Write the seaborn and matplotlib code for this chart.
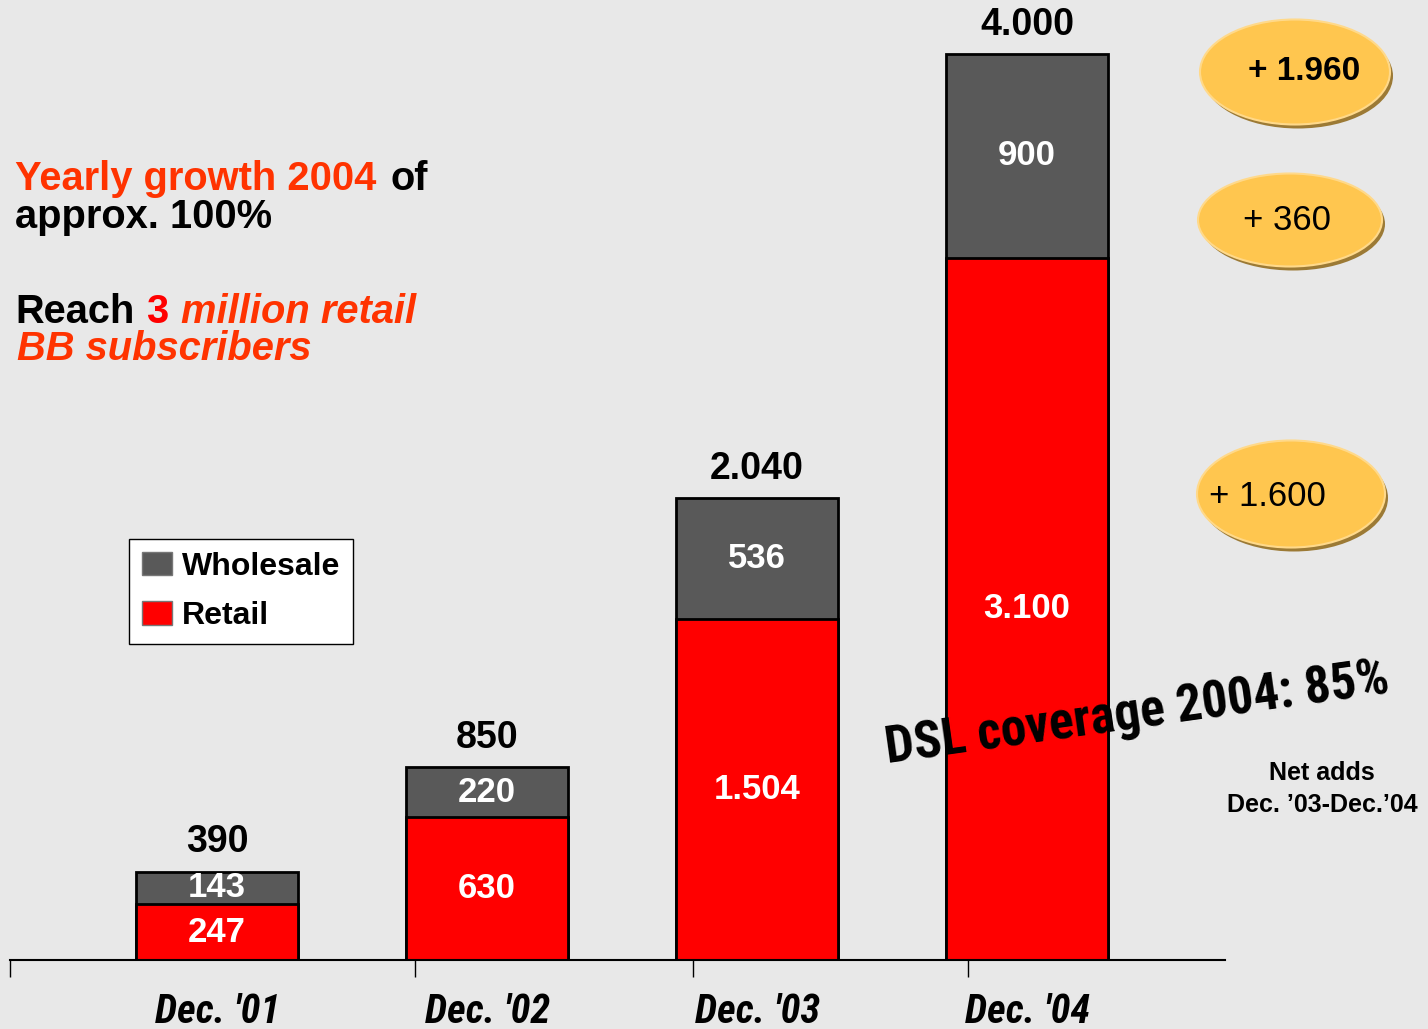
import pandas as pd
import numpy as np
import seaborn as sns
import matplotlib.pyplot as plt
import matplotlib.font_manager as fm
from matplotlib.patches import Patch, Ellipse

# data
months = ["Dec. '01", "Dec. '02", "Dec. '03", "Dec. '04"]
retail = [247, 630, 1504, 3100]
wholesale = [143, 220, 536, 900]
totals = [390, 850, 2040, 4000]
net_adds = ["+ 1.960", "+ 360", "+ 1.600"]

def fmt(v):
    # thousand separator as a dot
    return f"{v:,}".replace(",", ".")

df = pd.DataFrame({"month": months, "retail": retail, "wholesale": wholesale, "total": totals})

bg = "#E8E8E8"
gray = "#595959"
red = "#FF0000"
orange = "#FF3300"

sns.set_style("white")
plt.rcParams['font.family'] = ['Liberation Sans', 'DejaVu Sans']
plt.rcParams['text.color'] = 'black'
plt.rcParams['xtick.color'] = 'black'
plt.rcParams['xtick.labelcolor'] = 'black'
plt.rcParams['legend.labelcolor'] = 'black'

#look for a narrow face for the condensed texts
installed = {f.name for f in fm.fontManager.ttflist}
narrow = None
for cand in ['Liberation Sans Narrow', 'DejaVu Sans Condensed', 'Roboto Condensed', 'Open Sans Condensed']:
    if cand in installed:
        narrow = cand
        break
if narrow:
    cond_family = [narrow, 'Liberation Sans']
    xlab_size, dsl_size = 29, 37
else:
    cond_family = ['Liberation Sans', 'DejaVu Sans']
    xlab_size, dsl_size = 25, 31

fig = plt.figure(figsize=(14.28, 10.29), dpi=100, facecolor=bg)
W, H = 1428, 1029
ax = fig.add_axes([10 / W, 69 / H, 1215 / W, 960 / H])
ax.set_facecolor(bg)

#stacked bars: full total in gray, retail on top of it in red
sns.barplot(data=df, x="month", y="total", color=gray, width=0.6, saturation=1,
            edgecolor="black", linewidth=2, ax=ax)
sns.barplot(data=df, x="month", y="retail", color=red, width=0.6, saturation=1,
            edgecolor="black", linewidth=2, ax=ax)

ax.set_xlim(-0.767, 3.733)
ax.set_ylim(0, 4000 * 960 / 906)
for s in ["top", "right", "left"]:
    ax.spines[s].set_visible(False)
ax.spines["bottom"].set_linewidth(1.5)
ax.spines["bottom"].set_color("black")
ax.set_yticks([])
ax.set_xlabel("")
ax.set_ylabel("")

ax.set_xticks(range(len(months)))
ax.set_xticklabels(months, fontsize=xlab_size, fontweight="bold", fontstyle="italic",
                   family=cond_family, color="black")
ax.tick_params(axis="x", which="major", length=0, pad=24)
ax.set_xticks([-0.767, 0.733, 1.763, 2.781], minor=True)
ax.tick_params(axis="x", which="minor", bottom=True, length=12, width=1,
               color="black", direction="out")

for i in range(len(months)):
    ax.text(i, retail[i] / 2, fmt(retail[i]), ha="center", va="center",
            color="white", fontsize=25, fontweight="bold")
    ax.text(i, retail[i] + wholesale[i] / 2, fmt(wholesale[i]), ha="center", va="center",
            color="white", fontsize=25, fontweight="bold")
    ax.text(i, totals[i] + 50, fmt(totals[i]), ha="center", va="bottom",
            color="black", fontsize=27, fontweight="bold")

handles = [Patch(facecolor=gray, edgecolor="#777777"), Patch(facecolor=red, edgecolor="#777777")]
leg = ax.legend(handles, ["Wholesale", "Retail"], loc="upper left",
                bbox_to_anchor=(129 / W, 1 - 539 / H), bbox_transform=fig.transFigure,
                borderaxespad=0, fancybox=False, framealpha=1, edgecolor="black",
                prop={"size": 23, "weight": "bold"}, handlelength=0.95, handleheight=0.75,
                handletextpad=0.3, labelspacing=0.6, borderpad=0.4)
leg.get_frame().set_linewidth(1)

# overlay in pixel coordinates for the annotations
ov = fig.add_axes([0, 0, 1, 1])
ov.set_xlim(0, W)
ov.set_ylim(H, 0)
ov.axis("off")
ov.patch.set_alpha(0)

ells = [(1295, 72, 190, 105), (1290, 220, 184, 93), (1291, 494, 188, 107)]
for (cx, cy, w, h) in ells:
    ov.add_patch(Ellipse((cx + 3, cy + 4), w, h, facecolor="#9C7A35", edgecolor="none"))
    ov.add_patch(Ellipse((cx, cy), w, h, facecolor="#FFC64F", edgecolor="#FFD98A", linewidth=1.5))

ov.text(1304, 72, net_adds[0], ha="center", va="center", fontsize=24, fontweight="bold")
ov.text(1287, 220, net_adds[1], ha="center", va="center", fontsize=25)
ov.text(1267, 497, net_adds[2], ha="center", va="center", fontsize=25)

ov.text(1322, 773, "Net adds", ha="center", va="center", fontsize=18, fontweight="bold")
ov.text(1322, 805, "Dec. \u201903-Dec.\u201904", ha="center", va="center", fontsize=18, fontweight="bold")

ov.text(1137, 714, "DSL coverage 2004: 85%", ha="center", va="center", rotation=8,
        rotation_mode="anchor", fontsize=dsl_size, fontweight="heavy", color="black",
        family=cond_family)

#left side messages
fs = 28.7
ov.text(15, 190, "Yearly growth 2004", color=orange, fontsize=fs, fontweight="bold", va="baseline")
ov.text(390, 190, "of", color="black", fontsize=fs, fontweight="bold", va="baseline")
ov.text(15, 228, "approx. 100%", color="black", fontsize=fs, fontweight="bold", va="baseline")
ov.text(15, 323, "Reach", color="black", fontsize=fs, fontweight="bold", va="baseline")
ov.text(146, 323, "3", color=red, fontsize=fs, fontweight="bold", va="baseline")
ov.text(181, 323, "million retail", color=orange, fontsize=fs, fontweight="bold",
        fontstyle="italic", va="baseline")
ov.text(17, 360, "BB subscribers", color=orange, fontsize=fs, fontweight="bold",
        fontstyle="italic", va="baseline")

plt.savefig("out.png", dpi=100, facecolor=bg)
